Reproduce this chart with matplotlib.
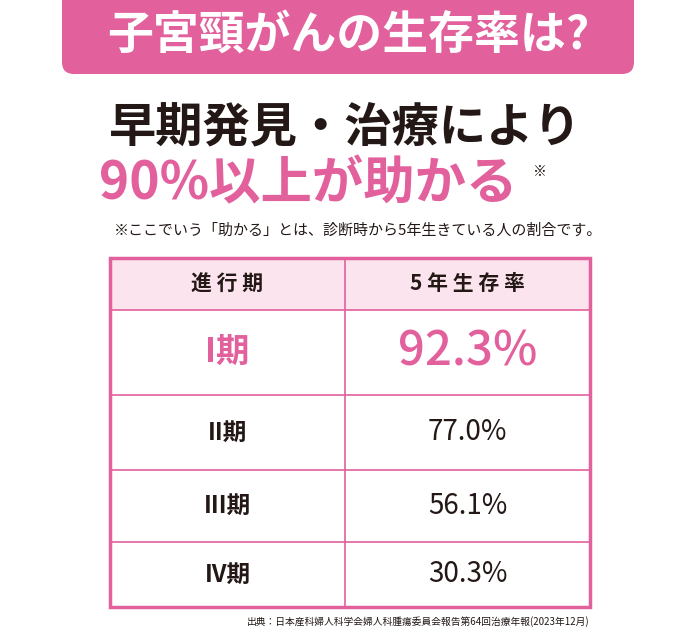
import matplotlib.pyplot as plt
from matplotlib.patches import FancyBboxPatch, Rectangle

plt.rcParams['font.family'] = 'Noto Sans CJK JP'

PINK = '#e2609c'
LIGHT = '#fce4ee'
DARK = '#231815'

title = '子宮頸がんの生存率は?'
headline = '早期発見・治療により'
subline = '90%以上が助かる'
note = '※ここでいう「助かる」とは、診断時から5年生きている人の割合です。'
source = '出典：日本産科婦人科学会婦人科腫瘍委員会報告第64回治療年報(2023年12月)'
col_headers = ['進 行 期', '5 年 生 存 率']
stages = ['I期', 'II期', 'III期', 'IV期']
rates = [92.3, 77.0, 56.1, 30.3]

fig = plt.figure(figsize=(6.95, 6.41), dpi=100)
ax = fig.add_axes([0, 0, 1, 1])
ax.set_xlim(0, 695)
ax.set_ylim(641, 0)
ax.axis('off')

# banner
ax.add_patch(FancyBboxPatch((62, -20), 572, 94, boxstyle='round,pad=0,rounding_size=12',
                            fc=PINK, ec='none'))
ax.text(348, 36, title, color='white', fontsize=33, fontweight='bold', ha='center', va='center')

ax.text(345, 127, headline, color=DARK, fontsize=34, fontweight='bold', ha='center', va='center')
ax.text(308, 184, subline, color=PINK, fontsize=37, fontweight='bold', ha='center', va='center')
ax.text(540, 172, '※', color=DARK, fontsize=10, ha='center', va='center')
ax.text(358, 231, note, color=DARK, fontsize=10.8, ha='center', va='center')

# table
x0, xm, x1 = 110, 345, 590
row_edges = [258, 310, 395, 470, 542, 607]
ax.add_patch(Rectangle((x0, row_edges[0]), x1 - x0, row_edges[1] - row_edges[0], fc=LIGHT, ec='none'))
for y in row_edges[1:-1]:
    ax.plot([x0, x1], [y, y], color=PINK, lw=1.2)
ax.add_patch(Rectangle((x0, row_edges[0]), x1 - x0, row_edges[-1] - row_edges[0], fc='none', ec=PINK, lw=2.5))
ax.plot([xm, xm], [row_edges[0], row_edges[-1]], color=PINK, lw=1.2)

hy = (row_edges[0] + row_edges[1]) / 2
ax.text((x0 + xm) / 2, hy, col_headers[0], fontsize=15, fontweight='bold', color=DARK, ha='center', va='center')
ax.text((xm + x1) / 2, hy, col_headers[1], fontsize=15, fontweight='bold', color=DARK, ha='center', va='center')

for i, (s, r) in enumerate(zip(stages, rates)):
    yc = (row_edges[i + 1] + row_edges[i + 2]) / 2
    if i == 0:
        ax.text((x0 + xm) / 2, yc, s, fontsize=24, fontweight='bold', color=PINK, ha='center', va='center')
        ax.text((xm + x1) / 2, yc, f'{r:.1f}%', fontsize=34, fontweight='medium', color=PINK,
                ha='center', va='center')
    else:
        ax.text((x0 + xm) / 2, yc, s, fontsize=17, fontweight='bold', color=DARK, ha='center', va='center')
        ax.text((xm + x1) / 2, yc, f'{r:.1f}%', fontsize=20, color=DARK, ha='center', va='center')

ax.text(590, 622, source, fontsize=7, color=DARK, ha='right', va='center')

fig.savefig('out.png', dpi=100)
